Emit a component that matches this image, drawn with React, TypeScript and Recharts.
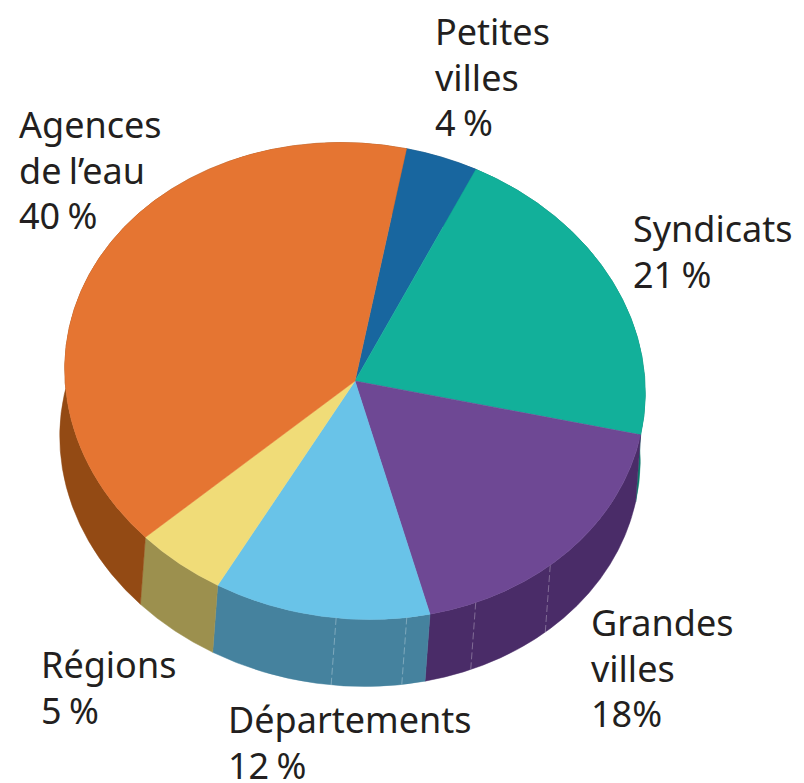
import { Pie, PieChart } from "recharts";

const categories = ["Petites villes", "Syndicats", "Grandes villes", "Départements", "Régions", "Agences de l’eau"];
const shares = [4, 21, 18, 12, 5, 40];
const topColors = ["#18669f", "#12b09a", "#6e4894", "#69c3e8", "#f0dc78", "#e57532"];
const wallColors = ["#104a73", "#0b7a6a", "#4a2c68", "#45829e", "#9c904e", "#934a14"];
const labelLines = [
  ["Petites", "villes", "4 %"],
  ["Syndicats", "21 %"],
  ["Grandes", "villes", "18%"],
  ["Départements", "12 %"],
  ["Régions", "5 %"],
  ["Agences", "de l’eau", "40 %"],
];
// where each label block starts (x, first baseline)
const labelSpots = [
  [435, 45],
  [633, 242],
  [591, 636],
  [228, 733],
  [41, 678],
  [19, 138],
];
// faint folds on the side of the disc, as pie angles
const wallSeams = [-42, -59.7, -74, -88];

const rows = categories.map((name, i) => ({
  name,
  value: shares[i],
  fill: topColors[i],
  wall: wallColors[i],
}));

const SQUASH = 0.8165;
const TILT = 7;
const DROP_X = -5;
const DROP_Y = 67;

const rad = Math.PI / 180;

function onRim(cx: number, cy: number, r: number, deg: number) {
  const u = r * Math.cos(deg * rad);
  const v = -r * SQUASH * Math.sin(deg * rad);
  const c = Math.cos(TILT * rad);
  const s = Math.sin(TILT * rad);
  return { x: cx + u * c - v * s, y: cy + u * s + v * c };
}

const arcTo = (r: number, large: number, sweep: number, p: { x: number; y: number }) =>
  `A ${r} ${r * SQUASH} ${TILT} ${large} ${sweep} ${p.x} ${p.y}`;

function TopSlice(props: any) {
  const { cx, cy, outerRadius: r, startAngle, endAngle, fill } = props;
  const a = onRim(cx, cy, r, startAngle);
  const b = onRim(cx, cy, r, endAngle);
  const large = Math.abs(endAngle - startAngle) > 180 ? 1 : 0;
  return <path d={`M ${cx} ${cy} L ${a.x} ${a.y} ${arcTo(r, large, 1, b)} Z`} fill={fill} stroke={fill} strokeWidth={0.5} />;
}

function WallSlice(props: any) {
  const { cx, cy, outerRadius: r, startAngle, endAngle, wall } = props;
  const a = onRim(cx, cy, r, startAngle);
  const b = onRim(cx, cy, r, endAngle);
  const c = onRim(cx + DROP_X, cy + DROP_Y, r, endAngle);
  const d = onRim(cx + DROP_X, cy + DROP_Y, r, startAngle);
  const large = Math.abs(endAngle - startAngle) > 180 ? 1 : 0;
  const seams = wallSeams.filter((t) => t < startAngle && t > endAngle);
  return (
    <g>
      <path d={`M ${a.x} ${a.y} ${arcTo(r, large, 1, b)} L ${c.x} ${c.y} ${arcTo(r, large, 0, d)} Z`} fill={wall} stroke={wall} strokeWidth={0.5} />
      {seams.map((t) => {
        const p = onRim(cx, cy, r, t);
        const q = onRim(cx + DROP_X, cy + DROP_Y, r, t);
        return <line key={t} x1={p.x} y1={p.y} x2={q.x} y2={q.y} stroke="#ffffff" strokeOpacity={0.3} strokeWidth={1} strokeDasharray="7 3" />;
      })}
    </g>
  );
}

function SliceLabel({ index }: any) {
  const [x, y] = labelSpots[index];
  return (
    <text x={x} y={y} fontFamily="'Noto Sans', sans-serif" fontSize={36} wordSpacing={-2} fill="#231f20">
      {labelLines[index].map((line, i) => (
        <tspan key={line} x={x} y={y + i * 45.5}>
          {line}
        </tspan>
      ))}
    </text>
  );
}

export default function App() {
  return (
    <div style={{ position: "absolute", left: 0, top: 0, width: 804, height: 783, background: "#fff" }}>
      <PieChart width={804} height={783} margin={{ top: 0, right: 0, bottom: 0, left: 0 }}>
        <Pie
          data={rows}
          dataKey="value"
          cx={355}
          cy={381}
          outerRadius={291}
          startAngle={85.5}
          endAngle={-274.5}
          shape={WallSlice}
          isAnimationActive={false}
        />
        <Pie
          data={rows}
          dataKey="value"
          cx={355}
          cy={381}
          outerRadius={291}
          startAngle={85.5}
          endAngle={-274.5}
          shape={TopSlice}
          label={SliceLabel}
          labelLine={false}
          isAnimationActive={false}
        />
      </PieChart>
    </div>
  );
}
